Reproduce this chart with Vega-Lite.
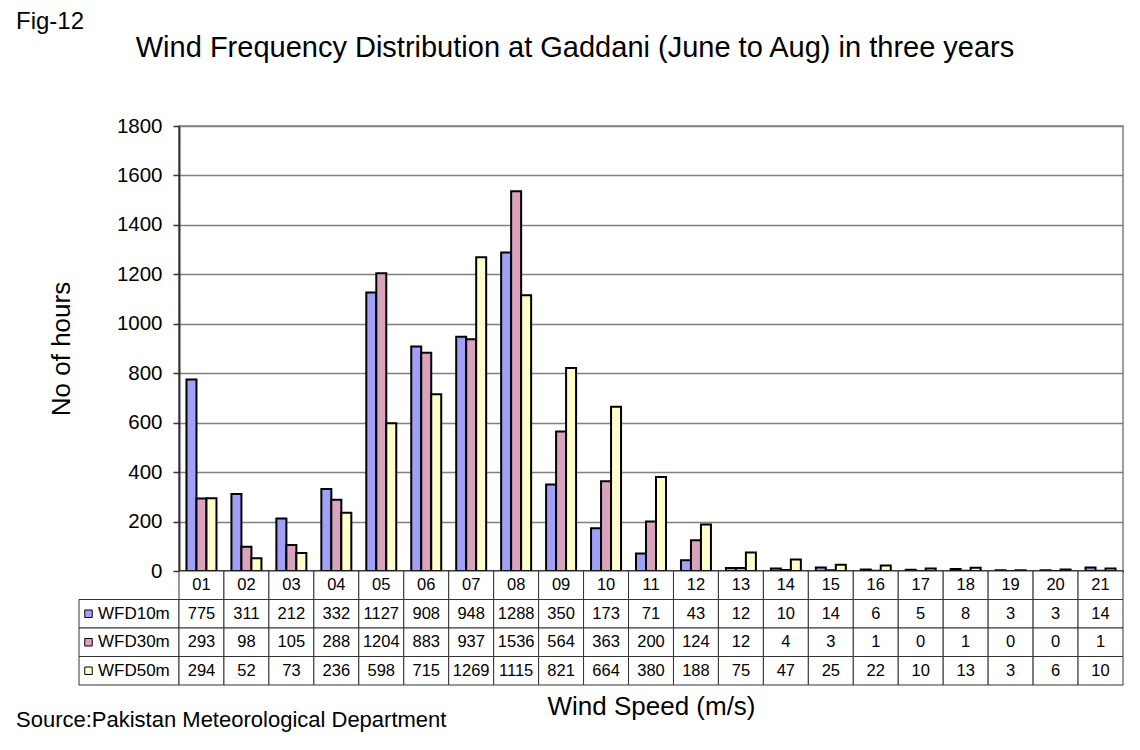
{
  "$schema": "https://vega.github.io/schema/vega-lite/v6.json",
  "autosize": {"type": "pad"},
  "padding": {"left": 16, "top": 10, "right": 12, "bottom": 10},
  "background": "white",
  "title": {"text": "Fig-12", "anchor": "start", "fontSize": 24, "font": "Liberation Sans", "fontWeight": "normal", "color": "black", "offset": -1},
  "config": {"font": "Liberation Sans", "view": {"stroke": null}},
  "bounds": "flush",
  "columns": 2,
  "spacing": 0,
  "resolve": {"scale": {"x": "independent", "y": "independent", "fill": "shared"}},
  "datasets": {
    "wfd": [
      {"speed": "01", "series": "WFD10m", "hours": 775}, {"speed": "02", "series": "WFD10m", "hours": 311}, {"speed": "03", "series": "WFD10m", "hours": 212}, {"speed": "04", "series": "WFD10m", "hours": 332}, {"speed": "05", "series": "WFD10m", "hours": 1127}, {"speed": "06", "series": "WFD10m", "hours": 908}, {"speed": "07", "series": "WFD10m", "hours": 948}, {"speed": "08", "series": "WFD10m", "hours": 1288}, {"speed": "09", "series": "WFD10m", "hours": 350}, {"speed": "10", "series": "WFD10m", "hours": 173}, {"speed": "11", "series": "WFD10m", "hours": 71}, {"speed": "12", "series": "WFD10m", "hours": 43}, {"speed": "13", "series": "WFD10m", "hours": 12}, {"speed": "14", "series": "WFD10m", "hours": 10}, {"speed": "15", "series": "WFD10m", "hours": 14}, {"speed": "16", "series": "WFD10m", "hours": 6}, {"speed": "17", "series": "WFD10m", "hours": 5}, {"speed": "18", "series": "WFD10m", "hours": 8}, {"speed": "19", "series": "WFD10m", "hours": 3}, {"speed": "20", "series": "WFD10m", "hours": 3}, {"speed": "21", "series": "WFD10m", "hours": 14},
      {"speed": "01", "series": "WFD30m", "hours": 293}, {"speed": "02", "series": "WFD30m", "hours": 98}, {"speed": "03", "series": "WFD30m", "hours": 105}, {"speed": "04", "series": "WFD30m", "hours": 288}, {"speed": "05", "series": "WFD30m", "hours": 1204}, {"speed": "06", "series": "WFD30m", "hours": 883}, {"speed": "07", "series": "WFD30m", "hours": 937}, {"speed": "08", "series": "WFD30m", "hours": 1536}, {"speed": "09", "series": "WFD30m", "hours": 564}, {"speed": "10", "series": "WFD30m", "hours": 363}, {"speed": "11", "series": "WFD30m", "hours": 200}, {"speed": "12", "series": "WFD30m", "hours": 124}, {"speed": "13", "series": "WFD30m", "hours": 12}, {"speed": "14", "series": "WFD30m", "hours": 4}, {"speed": "15", "series": "WFD30m", "hours": 3}, {"speed": "16", "series": "WFD30m", "hours": 1}, {"speed": "17", "series": "WFD30m", "hours": 0}, {"speed": "18", "series": "WFD30m", "hours": 1}, {"speed": "19", "series": "WFD30m", "hours": 0}, {"speed": "20", "series": "WFD30m", "hours": 0}, {"speed": "21", "series": "WFD30m", "hours": 1},
      {"speed": "01", "series": "WFD50m", "hours": 294}, {"speed": "02", "series": "WFD50m", "hours": 52}, {"speed": "03", "series": "WFD50m", "hours": 73}, {"speed": "04", "series": "WFD50m", "hours": 236}, {"speed": "05", "series": "WFD50m", "hours": 598}, {"speed": "06", "series": "WFD50m", "hours": 715}, {"speed": "07", "series": "WFD50m", "hours": 1269}, {"speed": "08", "series": "WFD50m", "hours": 1115}, {"speed": "09", "series": "WFD50m", "hours": 821}, {"speed": "10", "series": "WFD50m", "hours": 664}, {"speed": "11", "series": "WFD50m", "hours": 380}, {"speed": "12", "series": "WFD50m", "hours": 188}, {"speed": "13", "series": "WFD50m", "hours": 75}, {"speed": "14", "series": "WFD50m", "hours": 47}, {"speed": "15", "series": "WFD50m", "hours": 25}, {"speed": "16", "series": "WFD50m", "hours": 22}, {"speed": "17", "series": "WFD50m", "hours": 10}, {"speed": "18", "series": "WFD50m", "hours": 13}, {"speed": "19", "series": "WFD50m", "hours": 3}, {"speed": "20", "series": "WFD50m", "hours": 6}, {"speed": "21", "series": "WFD50m", "hours": 10}
    ]
  },
  "concat": [
    {
      "width": 100,
      "height": 445,
      "data": {"values": []},
      "mark": "point",
      "encoding": {}
    },
    {
      "width": 944,
      "height": 445,
      "data": {"name": "wfd"},
      "view": {"stroke": "#808080", "strokeWidth": 1.5},
      "title": {"text": "Wind Frequency Distribution at Gaddani (June to Aug) in three years", "fontSize": 29, "fontWeight": "normal", "anchor": "middle", "frame": "group", "dx": -76, "offset": 53, "color": "black"},
      "mark": {"type": "bar", "stroke": "black", "strokeWidth": 2},
      "encoding": {
        "x": {"field": "speed", "type": "nominal", "scale": {"paddingInner": 0.333, "paddingOuter": 0.1665}, "axis": {"labels": false, "ticks": false, "title": null, "domainColor": "black", "domainWidth": 2}},
        "xOffset": {"field": "series", "type": "nominal", "scale": {"paddingInner": 0, "paddingOuter": 0}},
        "y": {"field": "hours", "type": "quantitative", "scale": {"domain": [0, 1800], "nice": false}, "axis": {"values": [0, 200, 400, 600, 800, 1000, 1200, 1400, 1600, 1800], "format": "d", "title": "No of hours", "titleFontSize": 26, "titleFontWeight": "normal", "titleColor": "black", "titlePadding": 42, "labelFontSize": 20.5, "labelColor": "black", "labelPadding": 11, "tickSize": 6, "tickColor": "#333333", "tickWidth": 1.5, "domainColor": "#333333", "domainWidth": 2, "gridColor": "#808080", "gridWidth": 1.5}},
        "fill": {"field": "series", "type": "nominal", "scale": {"domain": ["WFD10m", "WFD30m", "WFD50m"], "range": ["#A0A0F7", "#D9A3BE", "#FFFFCC"]}, "legend": null}
      }
    },
    {
      "width": 100,
      "height": 114,
      "data": {"name": "wfd"},
      "transform": [{"filter": "datum.speed == '01'"}],
      "title": {"text": "Source:Pakistan Meteorological Department", "orient": "bottom", "anchor": "start", "frame": "group", "dx": -63, "offset": 24, "fontSize": 22, "fontWeight": "normal", "color": "black"},
      "layer": [
        {
          "mark": {"type": "rect", "fill": "white", "stroke": "#333333", "strokeWidth": 1},
          "encoding": {
            "x": {"datum": 0, "type": "quantitative", "scale": {"domain": [0, 100], "nice": false, "zero": false}, "axis": null},
            "x2": {"datum": 100},
            "y": {"field": "series", "type": "nominal", "scale": {"domain": ["hdr", "WFD10m", "WFD30m", "WFD50m"], "padding": 0}, "axis": null}
          }
        },
        {
          "mark": {"type": "point", "shape": "square", "size": 56, "filled": true, "stroke": "black", "strokeWidth": 1, "opacity": 1},
          "encoding": {
            "x": {"datum": 9.5, "type": "quantitative"},
            "y": {"field": "series", "type": "nominal"},
            "fill": {"field": "series", "type": "nominal", "legend": null}
          }
        },
        {
          "mark": {"type": "text", "align": "left", "baseline": "middle", "fontSize": 17, "color": "black"},
          "encoding": {
            "x": {"datum": 19, "type": "quantitative"},
            "y": {"field": "series", "type": "nominal"},
            "text": {"field": "series"}
          }
        }
      ]
    },
    {
      "width": 944,
      "height": 114,
      "data": {"name": "wfd"},
      "encoding": {
        "x": {"field": "speed", "type": "nominal", "scale": {"padding": 0}, "axis": {"labels": false, "ticks": false, "domain": false, "title": "Wind Speed (m/s)", "titleFontSize": 26, "titleFontWeight": "normal", "titleColor": "black", "titlePadding": 8}}
      },
      "layer": [
        {
          "transform": [{"filter": "datum.series == 'WFD10m'"}],
          "mark": {"type": "rect", "fill": "white", "stroke": "#333333", "strokeWidth": 1},
          "encoding": {"y": {"datum": "hdr", "type": "nominal", "scale": {"domain": ["hdr", "WFD10m", "WFD30m", "WFD50m"], "padding": 0}, "axis": null}}
        },
        {
          "transform": [{"filter": "datum.series == 'WFD10m'"}],
          "mark": {"type": "text", "fontSize": 16.5, "color": "black", "baseline": "middle"},
          "encoding": {"y": {"datum": "hdr", "type": "nominal"}, "text": {"field": "speed"}}
        },
        {
          "mark": {"type": "rect", "fill": "white", "stroke": "#333333", "strokeWidth": 1},
          "encoding": {"y": {"field": "series", "type": "nominal"}}
        },
        {
          "mark": {"type": "text", "fontSize": 16.5, "color": "black", "baseline": "middle"},
          "encoding": {"y": {"field": "series", "type": "nominal"}, "text": {"field": "hours", "type": "quantitative"}}
        }
      ]
    }
  ]
}
